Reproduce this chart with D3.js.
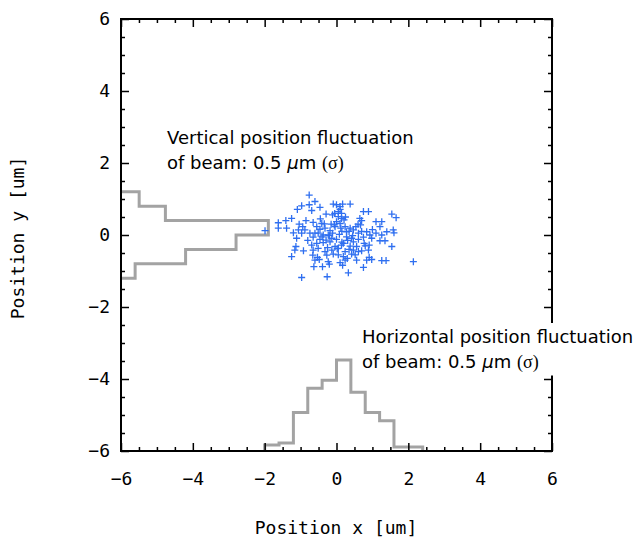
<!DOCTYPE html>
<html>
<head>
<meta charset="utf-8">
<script src="https://cdn.jsdelivr.net/npm/d3@7"></script>
<style>
  body { margin: 0; background: #fff; }
  svg { display: block; }
  .axis text { font-family: "DejaVu Sans Mono", monospace; font-size: 18px; fill: #000; }
  .axis line { stroke: #000; stroke-width: 1.5; }
  .axis path { display: none; }
  .note { font-family: "DejaVu Sans", sans-serif; font-size: 18px; fill: #000; }
</style>
</head>
<body>
<div id="chart"></div>
<script>
// scatter of beam positions [x, y] in um
var beamX = [-0.76,-0.60,-1.09,-0.97,-0.76,-0.69,-0.46,-0.09,0.00,0.10,0.17,0.38,0.05,0.10,0.14,-0.29,0.75,0.89,1.54,1.66,
    -0.11,0.14,0.65,0.70,-1.62,-1.41,-1.25,-0.85,-0.65,-0.41,-0.34,1.10,1.26,1.21,-1.62,-1.39,-1.04,-0.94,-1.06,-0.88,
    0.00,0.10,0.24,0.38,0.54,0.67,-0.55,-0.46,-0.32,-0.18,1.40,1.58,1.60,-1.20,-0.97,-0.74,-0.51,-0.37,-0.23,-0.11,
    0.47,0.61,0.84,0.93,1.10,1.26,-1.11,-0.65,-0.46,-0.29,-0.13,0.00,0.28,0.42,0.61,0.75,0.98,1.21,1.35,-1.13,
    -1.16,-0.92,-0.69,-0.55,-0.37,-0.18,-0.04,0.14,0.38,0.56,0.77,0.91,1.54,-0.65,-0.51,-0.32,-0.13,0.05,0.24,0.47,
    0.70,0.89,-1.25,-0.66,-0.53,-0.27,-0.09,0.19,0.42,0.61,0.91,0.98,-0.60,-0.48,-0.23,0.10,0.24,0.30,0.56,0.84,
    1.26,1.38,2.14,-0.63,-0.39,-0.20,0.17,0.75,-0.97,-0.26,0.33,-1.99,0.05,0.21,0.12,-0.04,0.28,0.19,0.47,-0.06,
    0.08,0.31,-0.20,0.02,0.15,0.35,0.45,-0.15,0.25,-0.40,0.60,0.80,-0.80,0.05,0.35,-0.45,1.00,0.15,-0.25,0.52,
    -0.05,0.70,-0.60];
var beamY = [1.11,0.93,0.71,0.81,0.84,0.68,0.77,0.86,0.84,0.79,0.86,0.86,0.65,0.71,0.60,0.58,0.65,0.65,0.58,0.48,
    0.56,0.46,0.46,0.40,0.34,0.40,0.46,0.40,0.35,0.32,0.31,0.37,0.37,0.23,0.19,0.19,0.30,0.23,0.14,0.14,
    0.37,0.32,0.23,0.19,0.23,0.28,0.23,0.16,0.19,0.12,0.09,0.14,0.06,0.06,0.05,0.05,0.05,0.00,0.00,0.05,
    0.14,0.05,0.09,0.00,0.05,0.00,-0.09,-0.06,-0.12,-0.14,-0.09,-0.12,-0.05,-0.09,-0.12,-0.06,-0.09,-0.16,-0.16,-0.32,
    -0.42,-0.44,-0.28,-0.23,-0.21,-0.19,-0.32,-0.28,-0.31,-0.32,-0.23,-0.28,-0.32,-0.42,-0.37,-0.46,-0.42,-0.37,-0.46,-0.42,
    -0.44,-0.42,-0.60,-0.56,-0.62,-0.56,-0.53,-0.60,-0.53,-0.46,-0.62,-0.68,-0.70,-0.68,-0.74,-0.77,-0.70,-0.65,-0.70,-0.70,
    -0.71,-0.71,-0.74,-0.88,-0.88,-0.81,-0.84,-0.90,-1.18,-1.16,-1.05,0.12,0.51,0.42,0.19,0.23,0.09,-0.23,-0.19,0.28,
    0.02,-0.15,-0.02,-0.38,0.10,0.10,-0.02,0.30,0.50,-0.05,0.30,-0.30,-0.15,-0.55,-0.40,0.45,0.15,-0.20,-0.35,-0.55,
    0.60,0.10,0.05];

// vertical histogram (left), bins of 0.4 um starting at -1.2
var vBinStart = -1.2, binWidth = 0.4;
var vCounts = [7, 32, 57, 73, 22, 9];
// horizontal histogram (bottom), bins of 0.4 um starting at -2.0
var hBinStart = -2.0;
var hCounts = [3, 4, 19, 31, 35, 45, 29, 19, 15, 2, 2];

var majorTicks = [-6, -4, -2, 0, 2, 4, 6];

(function() {
var width = 637, height = 537;
var pLeft = 121, pRight = 552, pTop = 19, pBottom = 451;

var svg = d3.select("#chart").append("svg")
    .attr("width", width).attr("height", height);

var x = d3.scaleLinear().domain([-6, 6]).range([pLeft, pRight]);
var y = d3.scaleLinear().domain([-6, 6]).range([pBottom, pTop]);
var countLen = d3.scaleLinear().domain([0, 100]).range([0, 5.62]); // counts -> um

var minorTicks = d3.range(-6, 6.01, 0.5).filter(function(d) { return d % 2 !== 0; });

// histograms
var line = d3.line().x(function(d) { return x(d[0]); }).y(function(d) { return y(d[1]); });

var vPts = [[-6, vBinStart]];
vCounts.forEach(function(c, i) {
    var v = -6 + countLen(c);
    vPts.push([v, vBinStart + i * binWidth]);
    vPts.push([v, vBinStart + (i + 1) * binWidth]);
});
vPts.push([-6, vBinStart + vCounts.length * binWidth]);

var hPts = [[hBinStart, -6]];
hCounts.forEach(function(c, i) {
    var v = -6 + countLen(c);
    hPts.push([hBinStart + i * binWidth, v]);
    hPts.push([hBinStart + (i + 1) * binWidth, v]);
});
hPts.push([hBinStart + hCounts.length * binWidth, -6]);

[vPts, hPts].forEach(function(p) {
    svg.append("path")
        .attr("d", line(p))
        .attr("fill", "none")
        .attr("stroke", "#a3a3a3")
        .attr("stroke-width", 3);
});

// scatter of "+" markers
var pts = beamX.map(function(d, i) { return [d, beamY[i]]; });
svg.append("g").selectAll("path").data(pts)
    .enter().append("path")
    .attr("d", function(d) {
        var px = x(d[0]), py = y(d[1]), r = 3.5;
        return "M" + (px - r) + "," + py + "H" + (px + r) + "M" + px + "," + (py - r) + "V" + (py + r);
    })
    .attr("stroke", "#2f6ff0")
    .attr("stroke-width", 1.3)
    .attr("fill", "none");

// axes (ticks inward, mirrored)
function addAxis(axisFn, scale, tx, ty, pad) {
    svg.append("g").attr("class", "axis")
        .attr("transform", "translate(" + tx + "," + ty + ")")
        .call(axisFn(scale).tickValues(minorTicks).tickSize(-4).tickFormat(""));
    svg.append("g").attr("class", "axis")
        .attr("transform", "translate(" + tx + "," + ty + ")")
        .call(axisFn(scale).tickValues(majorTicks).tickSize(-8)
            .tickPadding(pad).tickFormat(pad ? d3.format("d") : ""));
}
addAxis(d3.axisBottom, x, 0, pBottom, 21);
addAxis(d3.axisTop, x, 0, pTop, 0);
addAxis(d3.axisLeft, y, pLeft, 0, 11);
addAxis(d3.axisRight, y, pRight, 0, 0);

svg.append("rect")
    .attr("x", pLeft).attr("y", pTop)
    .attr("width", pRight - pLeft).attr("height", pBottom - pTop)
    .attr("fill", "none").attr("stroke", "#000").attr("stroke-width", 2);

// axis titles
svg.append("text")
    .attr("x", 336).attr("y", 534)
    .attr("text-anchor", "middle")
    .style("font-family", "'DejaVu Sans Mono', monospace").style("font-size", "18px")
    .text("Position x [um]");
svg.append("text")
    .attr("transform", "translate(24,238) rotate(-90)")
    .attr("text-anchor", "middle")
    .style("font-family", "'DejaVu Sans Mono', monospace").style("font-size", "18px")
    .text("Position y [um]");

// annotations, on a white box that hides what is under them
function note(xp, yp, first) {
    var g = svg.append("g");
    var bg = g.append("rect").attr("fill", "#fff");
    g.append("text").attr("class", "note").attr("x", xp).attr("y", yp).text(first);
    var t2 = g.append("text").attr("class", "note").attr("x", xp).attr("y", yp + 24.5);
    t2.append("tspan").text("of beam: 0.5 ");
    t2.append("tspan").style("font-style", "italic").text("\u03bc");
    t2.append("tspan").text("m ");
    t2.append("tspan").style("font-family", "'Liberation Serif', 'DejaVu Serif', serif").text("(\u03c3)");
    var b = g.node().getBBox();
    bg.attr("x", b.x - 5).attr("y", b.y - 3).attr("width", b.width + 10).attr("height", b.height + 6);
}
note(167, 144, "Vertical position fluctuation");
note(362, 343, "Horizontal position fluctuation");
})();
</script>
</body>
</html>
